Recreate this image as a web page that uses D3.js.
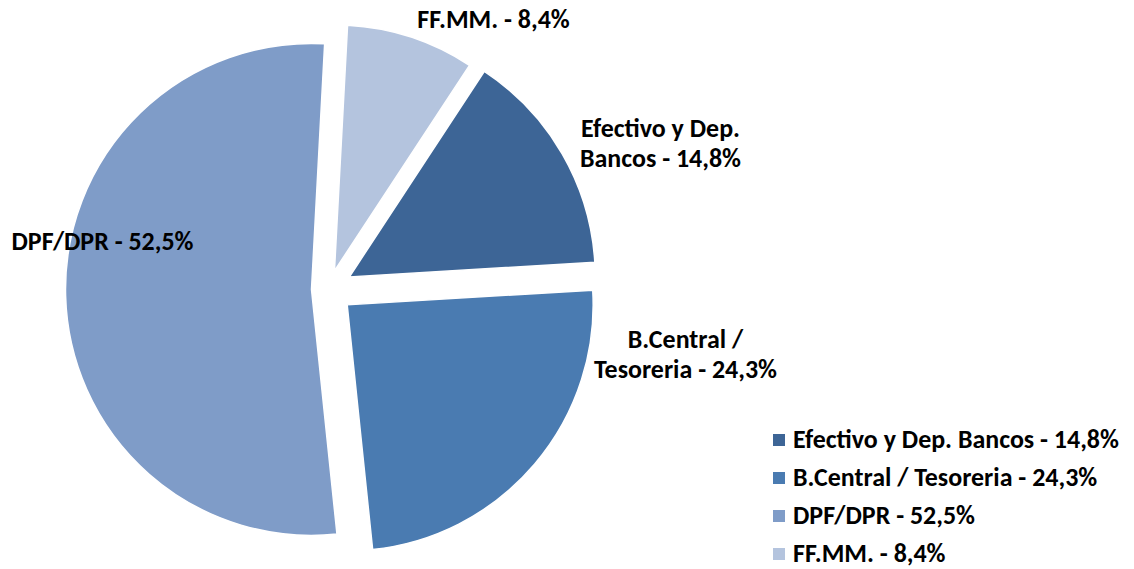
<!DOCTYPE html>
<html><head><meta charset="utf-8">
<script src="https://cdn.jsdelivr.net/npm/d3@7"></script>
<style>
html,body{margin:0;padding:0;background:#fff;}
text{font-family:Carlito,Calibri,Lato,sans-serif;font-weight:bold;fill:#000;}
</style></head>
<body><svg id="c" width="1134" height="569"></svg>
<script>
const categories = ["Efectivo y Dep. Bancos", "B.Central / Tesoreria", "DPF/DPR", "FF.MM."];
const values = [14.8, 24.3, 52.5, 8.4];
const valueLabels = ["14,8%", "24,3%", "52,5%", "8,4%"];
const labelLines = [["Efectivo y Dep.", "Bancos - 14,8%"], ["B.Central /", "Tesoreria - 24,3%"], ["DPF/DPR - 52,5%"], ["FF.MM. - 8,4%"]];
const colors = ["#3D6596", "#4A7BB1", "#7F9CC8", "#B4C4DE"];
const explodeBy = [24, 24.5, 17, 19];

const svg = d3.select("#c");
const cx = 328.5, cy = 289, R = 246;
const startA = 33.3 * Math.PI / 180;

const pie = d3.pie().sort(null).value(d => d).startAngle(startA).endAngle(startA + 2 * Math.PI);
const arcs = pie(values);
const arc = d3.arc().innerRadius(0).outerRadius(R);

const g = svg.append("g").attr("transform", `translate(${cx},${cy})`);
g.selectAll("path").data(arcs).enter().append("path")
  .attr("d", arc)
  .attr("fill", (d, i) => colors[i])
  .attr("stroke", "#fff").attr("stroke-width", 1.5)
  .attr("transform", (d, i) => {
    const m = (d.startAngle + d.endAngle) / 2;
    return `translate(${explodeBy[i] * Math.sin(m)},${-explodeBy[i] * Math.cos(m)})`;
  });

// size font so the first legend entry spans the reference width
const probe = svg.append("text").style("font-size", "20px").text(categories[0] + " - " + valueLabels[0]);
const fs = 20 * 326 / probe.node().getComputedTextLength();
probe.remove();

// data labels (layout positions, relative to pie centre)
const labelPos = [[332, -145], [357, 66], [-226, -47], [165, -269]];
const lh = 30;
labelLines.forEach((lines, i) => {
  const t = svg.append("text")
    .attr("x", cx + labelPos[i][0]).attr("y", cy + labelPos[i][1])
    .attr("text-anchor", "middle").style("font-size", fs + "px");
  lines.forEach((ln, j) => {
    t.append("tspan").attr("x", cx + labelPos[i][0])
      .attr("dy", j === 0 ? (-(lines.length - 1) * lh / 2 + 8) : lh).text(ln);
  });
});

// legend
const lg = svg.append("g").attr("transform", "translate(773,440)");
const ly = d3.scalePoint().domain(categories).range([0, 114]);
categories.forEach((c, i) => {
  lg.append("rect").attr("x", 0).attr("y", ly(c) - 6).attr("width", 12).attr("height", 12).attr("fill", colors[i]);
  lg.append("text").attr("x", 20).attr("y", ly(c) + 7.5).style("font-size", fs + "px")
    .text(c + " - " + valueLabels[i]);
});
</script></body></html>
